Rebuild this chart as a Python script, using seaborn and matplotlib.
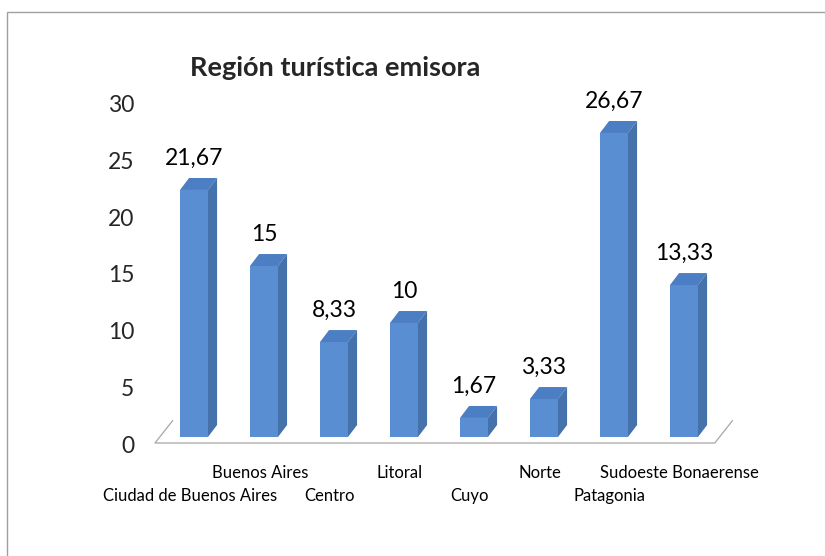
import matplotlib
matplotlib.use("Agg")
import matplotlib.pyplot as plt
import matplotlib.transforms as mtransforms
from matplotlib.patches import Polygon, Rectangle
import seaborn as sns

# data
regions = ["Ciudad de Buenos Aires", "Buenos Aires", "Centro", "Litoral",
           "Cuyo", "Norte", "Patagonia", "Sudoeste Bonaerense"]
values = [21.67, 15, 8.33, 10, 1.67, 3.33, 26.67, 13.33]
value_labels = ["21,67", "15", "8,33", "10", "1,67", "3,33", "26,67", "13,33"]
y_ticks = [0, 5, 10, 15, 20, 25, 30]
title = "Región turística emisora"

front_color = "#5A8ED2"
side_color = "#4572AA"
top_color = "#4B7EC2"

sns.set_style("white")
plt.rcParams["font.family"] = ["Lato", "DejaVu Sans"]

fig = plt.figure(figsize=(8.25, 5.56), dpi=100)
ax = fig.add_axes([140 / 825, 1 - 460 / 556, 620 / 825, 370 / 556])

sns.barplot(x=regions, y=values, color=front_color, width=0.4,
            saturation=1, ax=ax, zorder=3)

ax.set_xlim(-0.771, 8.086)
ax.set_ylim(-2.02, 30.44)

# fake 3d depth for the bars (in data units)
dx, dy = 0.13, 1.05
for p in ax.patches:
    p.set_edgecolor("none")
    x0 = p.get_x()
    x1 = x0 + p.get_width()
    h = p.get_height()
    top = Polygon([(x0, h), (x0 + dx, h + dy), (x1 + dx, h + dy), (x1, h)],
                  closed=True, facecolor=top_color, edgecolor="none", zorder=3)
    side = Polygon([(x1, 0), (x1, h), (x1 + dx, h + dy), (x1 + dx, dy)],
                   closed=True, facecolor=side_color, edgecolor="none", zorder=3)
    ax.add_patch(top)
    ax.add_patch(side)

# floor outline
fy = -0.53
fx0, fx1 = -0.557, 7.44
fdx, fdy = 0.257, 2.0
ax.plot([fx0 + fdx, fx0, fx1, fx1 + fdx], [fy + fdy, fy, fy, fy + fdy],
        color="#A6A6A6", lw=0.9, zorder=1, solid_capstyle="butt")

# value labels
for i, (v, lab) in enumerate(zip(values, value_labels)):
    ax.annotate(lab, (i, v), xytext=(0, 23), textcoords="offset points",
                ha="center", va="center", fontsize=16.5, color="#000000")

# category labels, staggered in two rows like Excel
ax.set_xticks([])
ax.set_xlabel("")
for i, name in enumerate(regions):
    y = -0.035 if i % 2 == 1 else -0.097
    ax.text(i - 0.06, y, name, transform=ax.get_xaxis_transform(),
            ha="center", va="center", fontsize=12, color="#000000")

# y axis
ax.set_yticks(y_ticks)
ax.set_yticklabels([str(t) for t in y_ticks], fontsize=16.5)
ax.tick_params(axis="y", length=0, pad=4)
shift = mtransforms.ScaledTranslation(0, -8 / 100, fig.dpi_scale_trans)
for lab in ax.get_yticklabels():
    lab.set_transform(lab.get_transform() + shift)

for s in ax.spines.values():
    s.set_visible(False)
ax.set_facecolor("none")

fig.text(335 / 825, 1 - 68 / 556, title, ha="center", va="center",
         fontsize=19.5, fontweight="bold")

# chart area border (only left/top visible in the crop)
fig.patches.append(Rectangle((7 / 825, -0.2), 1.5, 1.2 - 12 / 556,
                             transform=fig.transFigure, fill=False,
                             edgecolor="#A0A0A0", lw=1))

fig.savefig("out.png", dpi=100)
